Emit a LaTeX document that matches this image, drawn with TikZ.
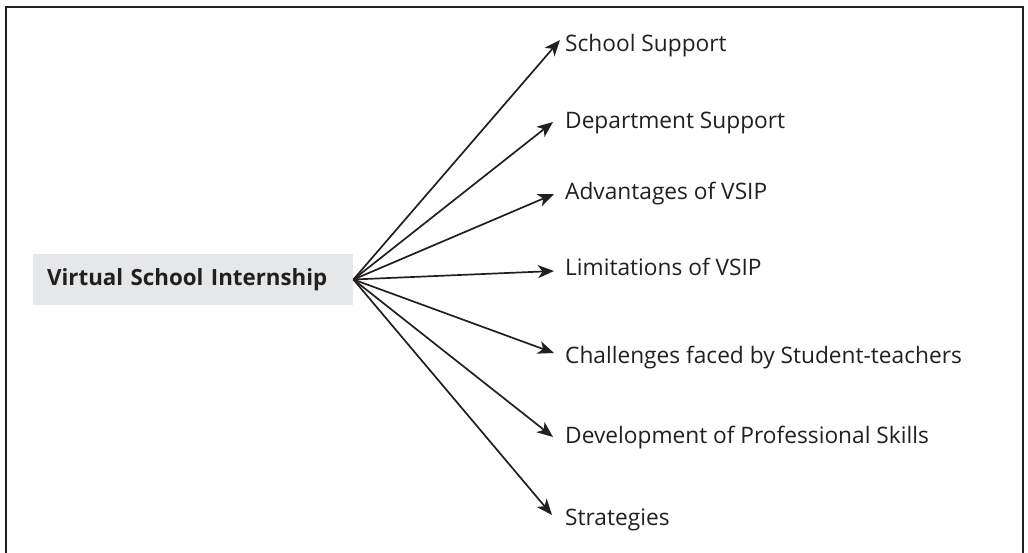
\documentclass[tikz,border=0pt]{standalone}
\usepackage{fontspec}
\setmainfont{Open Sans}
\usetikzlibrary{arrows.meta}
\definecolor{ink}{HTML}{231F20}
\definecolor{boxgray}{HTML}{E6E7E8}
\begin{document}
\begin{tikzpicture}[x=1pt,y=-1pt,
  link/.style={line width=1.7pt, draw=ink, -{Stealth[length=16pt,width=13pt,inset=4.5pt]}},
  topic/.style={anchor=base west, inner sep=0pt, text=ink, font=\fontsize{22.7}{27}\selectfont},
  rootbox/.style={anchor=west, fill=boxgray, inner xsep=14pt, inner ysep=0pt,
    text width=292pt, align=left, minimum height=51pt, text=ink,
    font=\fontsize{22.3}{27}\selectfont\bfseries}]
\useasboundingbox (0,0) rectangle (1028,553);
% open frame around the chart
\draw[line width=2.6pt, draw=ink] (6,560) -- (6,7) -- (1023,7) -- (1023,560);
% central topic
\node[rootbox] (root) at (33,279.5) {Virtual School Internship};
% themes
\node[topic] (s1) at (565,52) {School Support};
\node[topic] (s2) at (565,129) {Department Support};
\node[topic] (s3) at (565,200) {Advantages of VSIP};
\node[topic] (s4) at (565,276) {Limitations of VSIP};
\node[topic] (s5) at (565,363) {Challenges faced by Student-teachers};
\node[topic] (s6) at (565,443) {Development of Professional Skills};
\node[topic] (s7) at (565,525) {Strategies};
% arrow tips
\coordinate (t1) at (560,40);
\coordinate (t2) at (553,122);
\coordinate (t3) at (554,194);
\coordinate (t4) at (554,271);
\coordinate (t5) at (554,353);
\coordinate (t6) at (553,437);
\coordinate (t7) at (552,515);
\foreach \i in {1,...,7} \draw[link] (root.east) -- (t\i);
\end{tikzpicture}
\end{document}
